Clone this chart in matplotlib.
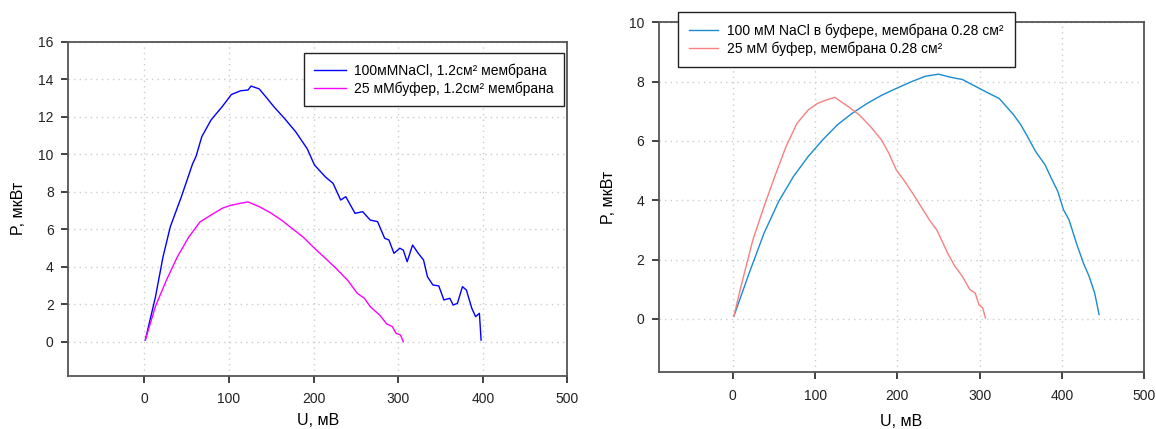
import matplotlib.pyplot as plt

plt.rcParams['font.family'] = ['Liberation Sans', 'DejaVu Sans']

# left panel: 1.2 cm2 membrane
u_nacl_l = [1, 13, 22, 30.6, 43.7, 56.9, 61, 67.8, 78.7, 91.9, 102.8, 113.7, 122.5, 126,
            135.6, 144, 153, 166, 179, 192.5, 201, 214, 223, 232, 238, 249, 258, 267,
            275.6, 284, 289, 295, 302, 306, 310.6, 317, 323.7, 330, 334.6, 341, 348,
            354, 361, 365, 370, 376, 380.6, 387, 391.5, 396, 398]
p_nacl_l = [0.1, 2.4, 4.55, 6.15, 7.75, 9.5, 9.9, 10.95, 11.84, 12.55, 13.2, 13.4, 13.44, 13.65,
            13.5, 13.05, 12.55, 11.9, 11.2, 10.3, 9.44, 8.8, 8.46, 7.57, 7.75, 6.86, 6.95, 6.5,
            6.42, 5.53, 5.44, 4.73, 5.0, 4.9, 4.28, 5.17, 4.73, 4.37, 3.48, 3.04, 2.99,
            2.24, 2.33, 1.97, 2.06, 2.95, 2.77, 1.8, 1.35, 1.53, 0.1]
u_buf_l = [1, 13, 26, 39, 52.5, 65.6, 78.7, 92, 100.6, 113.7, 122.5, 135.6, 148.7, 162,
           175, 188, 201, 214, 227.5, 240.6, 251.5, 260, 267, 278, 286.5, 293, 297.5,
           302.7, 306]
p_buf_l = [0.1, 1.9, 3.3, 4.55, 5.6, 6.4, 6.77, 7.13, 7.27, 7.4, 7.47, 7.22, 6.9, 6.5,
           6.04, 5.58, 5.0, 4.46, 3.88, 3.27, 2.6, 2.33, 1.88, 1.44, 0.96, 0.82, 0.46,
           0.37, 0.02]

# right panel: 0.28 cm2 membrane
u_nacl_r = [1.3, 20, 38, 55.8, 73.7, 91.5, 109, 127, 145, 163, 181, 198.7, 216.5, 234,
            250, 265.6, 279, 292, 310, 323.7, 332.6, 341.5, 350, 357, 368, 379.5, 386,
            395, 401.8, 408.5, 417.4, 426, 433, 439.7, 445]
p_nacl_r = [0.09, 1.55, 2.89, 3.96, 4.8, 5.47, 6.03, 6.54, 6.93, 7.26, 7.54, 7.77, 7.99, 8.18,
            8.25, 8.14, 8.07, 7.88, 7.62, 7.43, 7.15, 6.87, 6.54, 6.2, 5.64, 5.19, 4.8,
            4.29, 3.68, 3.34, 2.56, 1.88, 1.43, 0.87, 0.15]
u_buf_r = [1.3, 11, 24.5, 38, 51, 64.7, 78, 91.5, 102.7, 113.8, 124, 131.7, 140.6, 154,
           167.4, 180.8, 189.7, 198.7, 207.6, 221, 230, 238.8, 247.8, 254.5, 261, 270,
           279, 288, 294.6, 299, 303.6, 307]
p_buf_r = [0.09, 1.21, 2.67, 3.79, 4.8, 5.81, 6.59, 7.04, 7.26, 7.38, 7.47, 7.32, 7.15, 6.87,
           6.48, 6.03, 5.58, 5.02, 4.69, 4.13, 3.73, 3.34, 3.0, 2.61, 2.22, 1.77,
           1.43, 0.99, 0.87, 0.48, 0.37, 0.03]

fig = plt.figure(figsize=(11.56, 4.29), dpi=100)
ax1 = fig.add_axes([0.0591, 0.1242, 0.4317, 0.7779])
ax2 = fig.add_axes([0.5698, 0.1322, 0.4201, 0.8159])


def style_axes(ax, ymax, xpad):
    ax.set_xlim(-90, 500)
    ax.set_ylim(-1.8, ymax)
    ax.set_xticks(range(0, 501, 100))
    ax.set_yticks(range(0, ymax + 1, 2))
    ax.grid(True, color='#cccccc', linestyle=(0, (1, 3)), linewidth=1)
    ax.set_axisbelow(True)
    for s in ax.spines.values():
        s.set_color('#555555')
        s.set_linewidth(1.3)
    ax.tick_params(axis='x', length=5, width=1.2, pad=7, labelsize=10, colors='#222222')
    ax.tick_params(axis='y', length=5, width=1.2, pad=5.5, labelsize=10, colors='#222222')
    ax.set_xlabel('U, мВ', fontsize=11.5, labelpad=xpad)
    ax.set_ylabel('P, мкВт', fontsize=11.5, labelpad=9)


ax1.plot(u_nacl_l, p_nacl_l, color='#0000ff', lw=1, label='100мМNaCl, 1.2см² мембрана')
ax1.plot(u_buf_l, p_buf_l, color='#ff00ff', lw=1, label='25 мМбуфер, 1.2см² мембрана')
style_axes(ax1, 16, 5)
leg1 = ax1.legend(loc='upper left', bbox_to_anchor=(304 / 1156, 1 - 53 / 429),
                  bbox_transform=fig.transFigure, borderaxespad=0, fontsize=10,
                  fancybox=False, framealpha=1, edgecolor='#222222',
                  handlelength=2.3, handletextpad=0.55, labelspacing=0.25,
                  borderpad=0.75)
leg1.get_frame().set_linewidth(1)

ax2.plot(u_nacl_r, p_nacl_r, color='#1a8bd0', lw=1, label='100 мМ NaCl в буфере, мембрана 0.28 см²')
ax2.plot(u_buf_r, p_buf_r, color='#f88080', lw=1, label='25 мМ буфер, мембрана 0.28 см²')
style_axes(ax2, 10, 8)
leg2 = ax2.legend(loc='upper left', bbox_to_anchor=(678 / 1156, 1 - 12 / 429),
                  bbox_transform=fig.transFigure, borderaxespad=0, fontsize=10,
                  fancybox=False, framealpha=1, edgecolor='#222222',
                  handlelength=2.1, handletextpad=0.65, labelspacing=0.3,
                  borderpad=0.8)
leg2.get_frame().set_linewidth(1)

fig.savefig('out.png', dpi=100)
